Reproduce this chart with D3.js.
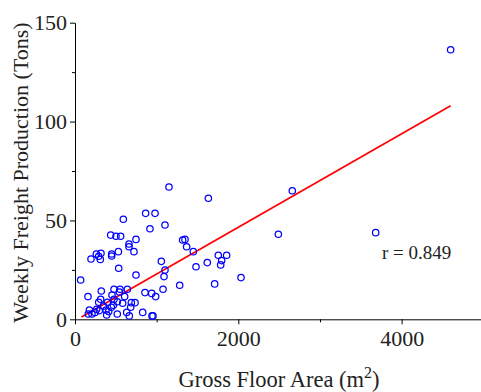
<!DOCTYPE html>
<html><head><meta charset="utf-8">
<script src="https://cdn.jsdelivr.net/npm/d3@7"></script>
<style>html,body{margin:0;padding:0;background:#fff;}svg{display:block;}</style>
</head><body>
<svg id="chart" width="481" height="392"></svg>
<script>
const xValues = [4600,2661,2490,3682,2033,1633,1151,865,980,592,1102,918,437,502,559,747,1318,1347,1367,661,661,531,722,1449,261,318,449,449,290,196,310,1755,1857,1796,1784,1620,1057,1482,535,1102,1090,747,69,1282,1710,1078,478,551,641,322,543,857,939,988,159,453,608,314,478,518,290,396,584,690,735,347,445,176,265,682,633,829,163,245,298,388,518,665,943,955,208,380,412,469];
const yValues = [136.3,65.0,43.0,43.8,21.1,61.2,66.9,53.6,53.6,50.6,47.7,45.8,42.6,42.0,42.0,40.4,40.1,40.4,36.7,38.1,36.7,34.2,34.2,34.2,33.0,33.4,33.0,32.0,31.9,30.5,30.3,32.4,32.4,29.7,27.5,28.7,29.3,26.6,25.8,24.9,21.6,22.4,19.9,17.2,17.9,15.2,15.2,15.2,15.2,14.3,13.8,13.5,13.1,11.5,11.5,12.3,11.5,10.1,10.1,8.9,8.6,8.6,8.1,8.4,8.4,6.7,6.1,4.7,5.1,6.1,3.5,3.5,2.7,3.5,4.4,2.2,2.7,1.7,1.7,1.7,2.7,4.7,3.9,7.1];
const fitX = [80, 4600];
const fitY = [1.2, 108.0];
const xMajorTicks = [0, 2000, 4000];
const xMinorTicks = [1000, 3000];
const yMajorTicks = [0, 50, 100, 150];
const yMinorTicks = [25, 75, 125];
const xTitle = "Gross Floor Area (m";
const yTitle = "Weekly Freight Production (Tons)";
const rLabel = "r = 0.849";

const svg = d3.select("#chart");
const font = "'Liberation Serif','Times New Roman',serif";
const x = d3.scaleLinear().domain([0, 5000]).range([75, 483.3]);
const y = d3.scaleLinear().domain([0, 150]).range([319.3, 22.7]);

// axes
svg.append("g").attr("transform", "translate(0,319.3)")
  .call(d3.axisBottom(x).tickValues(xMajorTicks).tickSize(5).tickSizeOuter(0).tickPadding(6).tickFormat(d3.format("d")));
svg.append("g").attr("transform", "translate(0,319.3)")
  .call(d3.axisBottom(x).tickValues(xMinorTicks).tickSize(3).tickFormat("")).select(".domain").remove();
svg.append("g").attr("transform", "translate(75,0)")
  .call(d3.axisLeft(y).tickValues(yMajorTicks).tickSize(5).tickSizeOuter(0).tickPadding(3).tickFormat(d3.format("d")));
svg.append("g").attr("transform", "translate(75,0)")
  .call(d3.axisLeft(y).tickValues(yMinorTicks).tickSize(3).tickFormat("")).select(".domain").remove();
svg.selectAll(".tick text").attr("font-family", font).attr("font-size", 22).attr("fill", "#222");
svg.selectAll(".domain, .tick line").attr("stroke", "#000").attr("stroke-width", 1);

// fit line
svg.append("line")
  .attr("x1", x(fitX[0])).attr("y1", y(fitY[0]))
  .attr("x2", x(fitX[1])).attr("y2", y(fitY[1]))
  .attr("stroke", "#ff0000").attr("stroke-width", 1.7);

// points
svg.append("g").selectAll("circle").data(xValues.map((v, i) => [v, yValues[i]])).join("circle")
  .attr("cx", d => x(d[0])).attr("cy", d => y(d[1])).attr("r", 3.2)
  .attr("fill", "none").attr("stroke", "#0000ff").attr("stroke-width", 1.25);

// r label
svg.append("text").attr("x", 382).attr("y", 259).attr("font-family", font).attr("font-size", 19)
  .attr("fill", "#222").text(rLabel);

// titles
const xt = svg.append("text").attr("x", 279).attr("y", 387).attr("text-anchor", "middle")
  .attr("font-family", font).attr("font-size", 22.5).attr("fill", "#222");
xt.append("tspan").text(xTitle);
xt.append("tspan").attr("font-size", 16).attr("dy", -9).text("2");
xt.append("tspan").attr("dy", 9).text(")");

svg.append("text").attr("transform", "translate(28,172.5) rotate(-90)").attr("text-anchor", "middle")
  .attr("font-family", font).attr("font-size", 22).attr("fill", "#222").text(yTitle);
</script>
</body></html>
